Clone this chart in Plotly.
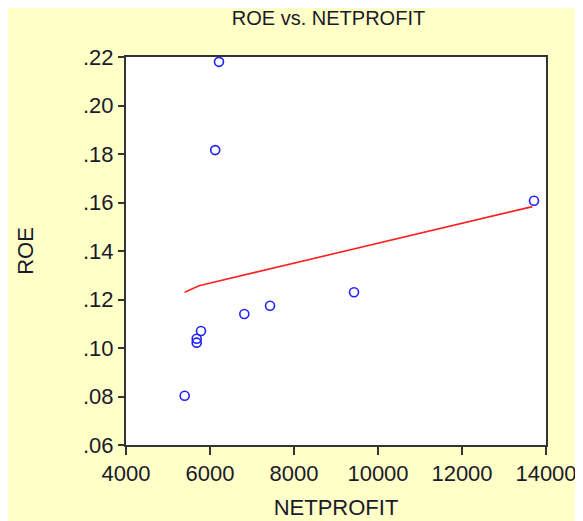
import plotly.graph_objects as go

# Data
netprofit = [5397, 5683, 5683, 5786, 6124, 6214, 6817, 7429, 9429, 13714]
roe = [0.0803, 0.1022, 0.1038, 0.1070, 0.1816, 0.2180, 0.1140, 0.1174, 0.1230, 0.1607]

# Fitted line as drawn in the picture
fit_x = [5397, 5738, 13676]
fit_y = [0.1230, 0.1257, 0.1583]

x_tickvals = [4000, 6000, 8000, 10000, 12000, 14000]
x_ticktext = ["4000", "6000", "8000", "10000", "12000", "14000"]
y_tickvals = [0.06, 0.08, 0.10, 0.12, 0.14, 0.16, 0.18, 0.20, 0.22]
y_ticktext = [".06", ".08", ".10", ".12", ".14", ".16", ".18", ".20", ".22"]

W, H = 583, 521
OFF = 8  # page offset of the figure
L, T = 126 - OFF, 57 - OFF
PW, PH = 420, 388
R = W - L - PW
B = H - T - PH

def px_x(p):
    return (p - OFF - L) / PW

fig = go.Figure()
fig.add_trace(go.Scatter(
    x=netprofit, y=roe, mode="markers",
    marker=dict(symbol="circle-open", size=9, color="#2020FF", line=dict(width=1.6, color="#2020FF")),
    showlegend=False, cliponaxis=False,
))
fig.add_trace(go.Scatter(
    x=fit_x, y=fit_y, mode="lines",
    line=dict(color="#FF2020", width=1.6),
    showlegend=False,
))

font_family = "Liberation Sans, Arial, sans-serif"
text_color = "#1a1a2a"

fig.update_layout(
    width=W, height=H,
    margin=dict(l=L, r=R, t=T, b=B, pad=0),
    paper_bgcolor="#FFFFC8",
    plot_bgcolor="white",
    font=dict(family=font_family, size=21, color=text_color),
    title=dict(text="ROE vs. NETPROFIT", x=px_x(328.5), xref="paper", xanchor="center",
               y=1 - (18 - OFF) / H, yref="container", yanchor="middle",
               font=dict(size=20, color=text_color)),
    xaxis=dict(
        range=[4000, 14000], tickvals=x_tickvals, ticktext=x_ticktext,
        showgrid=False, zeroline=False, showline=True, mirror=True,
        linecolor="#333333", linewidth=2, ticks="outside", ticklen=8, tickwidth=1.5,
        tickcolor="#333333", title=dict(text="NETPROFIT", standoff=14, font=dict(size=22)),
        tickfont=dict(size=22),
    ),
    yaxis=dict(
        range=[0.06, 0.22], tickvals=y_tickvals, ticktext=y_ticktext,
        showgrid=False, zeroline=False, showline=True, mirror=True,
        linecolor="#333333", linewidth=2, ticks="outside", ticklen=6, tickwidth=1.5,
        tickcolor="#333333", title=dict(text="ROE", standoff=43, font=dict(size=22)),
        tickfont=dict(size=22),
    ),
)

fig.write_html("out.html")
